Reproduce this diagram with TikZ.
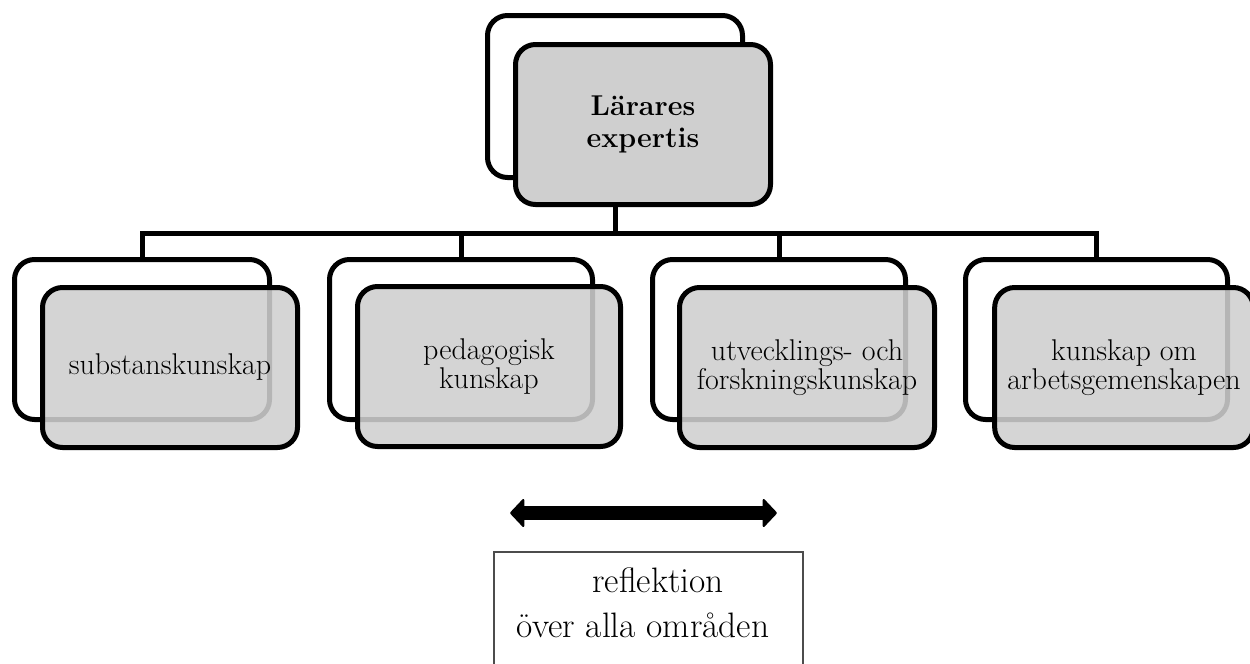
\documentclass[tikz,border=0pt]{standalone}
\usetikzlibrary{arrows.meta,backgrounds}
\definecolor{boxgray}{gray}{0.81}
\definecolor{framegray}{gray}{0.3}
\begin{document}
\begin{tikzpicture}[x=0.75pt,y=-0.75pt,
  backbox/.style={draw=black, line width=3.75pt, rounded corners=15pt, fill=white, inner sep=0pt, minimum height=120pt},
  frontbox/.style={draw=black, line width=3.75pt, rounded corners=15pt, fill=boxgray, fill opacity=0.88, text opacity=1, align=center, inner sep=0pt, minimum height=120pt, font=\fontsize{22.5}{21.5}\selectfont},
  topfront/.style={draw=black, line width=3.75pt, rounded corners=15pt, fill=boxgray, align=center, inner sep=0pt, font=\bfseries\fontsize{21.5}{24}\selectfont},
  conn/.style={line width=3.75pt},
  refbox/.style={draw=framegray, line width=1.1pt, fill=white, inner sep=0pt},
  reftext/.style={font=\fontsize{26.5}{30}\selectfont, anchor=base, inner sep=0pt},
]
\useasboundingbox (0,0) rectangle (1250,664);

% top boxes
\node[backbox, minimum width=191.25pt, minimum height=121.5pt] (tback) at (615,96.5) {};
\node[topfront, minimum width=191.25pt, minimum height=120pt] (tfront) at (643,124.5) {Lärares\\expertis};

% bottom back boxes
\node[backbox, minimum width=191.25pt] (bb1) at (142,339.5) {};
\node[backbox, minimum width=197.25pt] (bb2) at (461,339.5) {};
\node[backbox, minimum width=189.75pt] (bb3) at (779,339.5) {};
\node[backbox, minimum width=196.5pt] (bb4) at (1096.5,339.5) {};

% bottom front boxes
\node[frontbox, minimum width=191.25pt] (bf1) at (170,367.5) {substanskunskap};
\node[frontbox, minimum width=197.25pt] (bf2) at (489,366.5) {pedagogisk\\kunskap};
\node[frontbox, minimum width=191.25pt] (bf3) at (807,367.5) {utvecklings- och\\forskningskunskap};
\node[frontbox, minimum width=194pt] (bf4) at (1124,367.5) {kunskap om\\arbetsgemenskapen};

% connectors
\begin{pgfonlayer}{background}
\coordinate (bus) at (615,233);
\draw[conn] (tback.south) -- (bus);
\draw[conn] (bb1.north) |- (bus) -| (bb4.north);
\draw[conn] (bb2.north) |- (bus);
\draw[conn] (bb3.north) |- (bus);
\end{pgfonlayer}

% double arrow
\coordinate (al) at (510,513);
\coordinate (ar) at (777,513);
\draw[line width=11pt,
  {Triangle[length=11pt,width=23pt,line width=1.5pt,round]}-{Triangle[length=11pt,width=23pt,line width=1.5pt,round]}]
  (al) -- (ar);

% reflection box
\node[refbox, minimum width=232pt, minimum height=90pt] (rb) at (648.5,612) {};
\node[reftext] (r1) at (658,592) {reflektion};
\node[reftext] (r2) at (643,637) {över alla områden};
\end{tikzpicture}
\end{document}
